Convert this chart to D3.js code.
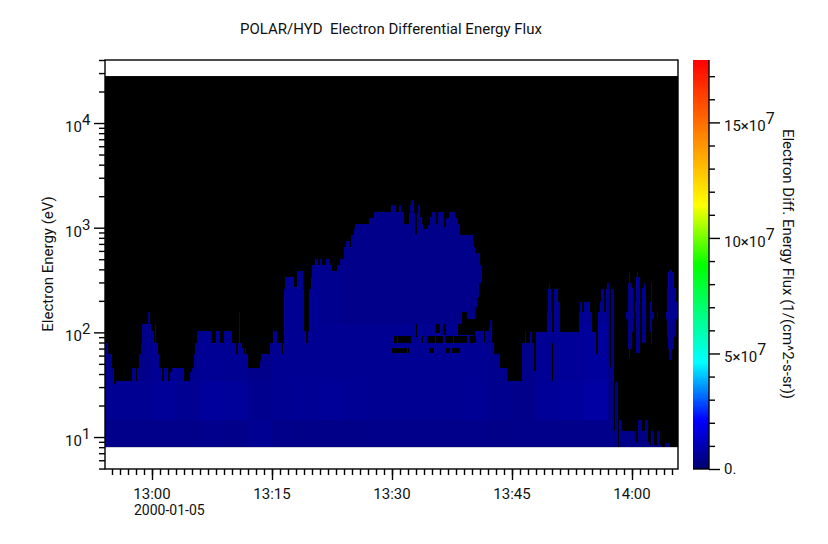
<!DOCTYPE html>
<html>
<head>
<meta charset="utf-8">
<title>POLAR/HYD Electron Differential Energy Flux</title>
<script src="https://d3js.org/d3.v7.min.js"></script>
<style>
  body { margin: 0; background: #fff; }
  text { font-family: Roboto, sans-serif; fill: #111; }
</style>
</head>
<body>
<div id="chart"></div>
<script>
// times are minutes after 13:00, energies are eV, flux is 1e7 /(cm^2-s-sr)
var timeStart = -5.875, timeEnd = 65.75;
var energyMin = 4.95, energyMax = 40000, energyFloor = 8, energyCeil = 28100;

// upper edge of the filled spectrogram, column by column
var blockStart = [-5.875,-5.5,-5.08,-4.83,-4.5,-2.5,-2.08,-1.83,-1.58,-1.33,-1.21,-0.5,-0.33,-0.21,-0.04,0.25,0.38,0.5,0.67,0.79,
  1.17,1.5,1.92,2.25,2.46,2.92,3,4,4.75,5,5.25,5.42,5.67,6.17,6.25,7.33,8,8.5,9,9.92,
  10.5,10.75,10.88,10.96,11.25,11.42,11.67,11.75,12,13.5,13.67,14.75,15.13,15.63,16.17,16.33,16.5,16.67,17.67,18.08,
  18.79,18.96,19.25,19.54,19.67,19.83,20,20.42,20.67,21,21.25,21.75,22.17,22.42,23.17,23.5,24,24.25,24.67,24.92,
  25.25,25.42,27.17,27.75,29.88,30.42,30.92,31.13,31.5,32.17,32.25,32.42,32.67,32.83,33.08,33.21,33.5,33.71,33.83,34.54,
  34.75,34.96,35.46,35.79,36.42,36.71,37.17,37.88,38.17,38.5,40.13,40.38,40.92,41.08,41.21,41.42,41.67,42.08,42.25,42.42,
  42.67,43.42,44.38,46.25,46.63,46.75,47.25,47.5,47.75,48,49.42,49.5,49.58,49.71,49.83,49.92,50.08,50.25,50.67,50.92,
  53.42,53.5,53.75,54,54.67,54.92,55.42,55.79,56,56.12,56.5,56.75,56.92,57.04,57.17,57.33,57.75,57.92,58.17,58.42,58.75,60.42,60.71,
  61.21,61.63,62,62.17,62.38,62.71,63.08,63.42,63.71,64.13,64.75];
var blockTop = [78.5,62,46,32,34,46,34,46,62,78.5,120,156,120,78.5,102,78.5,120,78.5,62,46,
  34,46,34,42,46,34,46,34,42,46,62,78.5,102,78.5,102,78.5,102,78.5,102,78.5,
  62,78.5,156,78.5,71,62,71,62,46,53.5,62,78.5,102,78.5,62,78.5,261,335,270,385,
  261,102,78.5,102,261,335,439,498,439,498,439,498,439,385,439,498,649,750,649,844,
  964,1083,1250,1409,1644,1409,1644,1409,1083,1368,1644,1835,1368,869,1368,1644,1273,1083,964,1059,
  1273,1400,1083,1400,1021,1227,1400,1227,1083,844,658,576,439,394,102,78.5,102,113,131,78.5,
  62,46,34,78.5,101,78.5,101,78.5,43,101,157,260,289,260,157,101,78.5,260,196,101,
  157,196,157,196,157,101,62,157,196,260,157,260,294,260,47,260,11.5,33.5,8,14.5,11.5,9,14.5,
  11.5,14.5,9,8.4,11.5,8.4,11.5,8.4,8,8.7,8];

// black gaps cut out of the filled part: [from, to, low eV, high eV]
var holes = [
  [38.29,38.71,94,121],[38.71,39.42,94,157],[39.42,40.17,94,133],[40.17,40.38,78.5,133],
  [40.38,40.63,102,176],[40.63,40.92,102,219],[40.92,41.21,102,294],
  [35.38,36,98,120],[36.42,36.71,94,121],[33,33.17,91,120],
  [30.25,30.67,78.5,92],[30.79,32.38,78.5,92],[33.08,33.21,78.5,92],[33.71,33.83,78.5,92],
  [34.42,35.38,78.5,92],[35.5,36.42,78.5,92],[36.63,37.67,78.5,92],[37.75,39.42,78.5,92],[39.67,40.5,78.5,92],
  [30,31.83,63,71],[32.04,32.17,63,71],[34.67,35.25,63,71],[35.67,35.75,63,71],[36.75,37.25,63,71],[37.5,38.5,63,71],
  [50.04,50.1,34,78.5]
];

// detached patches above the low band near the end: [from, to, low eV, high eV]
var islands = [
  [59.25,60.17,134,157],[59.5,60.08,101,263],[59.5,59.96,70,294],[59.63,59.75,56.5,379],
  [60.42,61,157,196],[60.5,60.92,63,340],[60.63,60.75,63,379],
  [61.21,61.71,78.5,263],[61.5,61.63,78.5,294],
  [62.25,62.67,134,157],[62.25,62.5,101,196],[62.38,62.46,78,294],
  [63.13,63.21,134,157],
  [64.25,65.67,134,157],[64.42,65.71,134,196],[64.42,65.5,90,263],[64.54,65.25,70,379],[64.67,64.96,54.5,390]
];

// flux read from the blue shades, per energy band and time slot
var slotStart = [-5.875,-3,0,3,6,9,12,15,18,21,24,27,30,33,36,39,42,45,48,51,54,57,60,63];
var bandLow = [8,14.5,34,120];
var fluxLow   = [.40,.38,.40,.40,.42,.40,.50,.38,.36,.36,.36,.38,.38,.38,.38,.38,.36,.38,.40,.40,.40,.36,.30,.30];
var fluxMid   = [.50,.50,.60,.50,.65,.62,.45,.50,.55,.60,.55,.50,.50,.50,.50,.55,.45,.40,.60,.65,.75,.30,.30,.30];
var fluxUpper = [.45,.40,.55,.45,.55,.50,.40,.50,.50,.50,.50,.50,.50,.50,.50,.50,.45,.40,.55,.60,.65,.35,.40,.40];
var fluxTop   = [.40,.40,.50,.40,.40,.40,.40,.50,.50,.45,.40,.40,.40,.40,.40,.40,.40,.40,.50,.50,.50,.40,.55,.50];
var fluxBands = [fluxLow, fluxMid, fluxUpper, fluxTop];

var colorValues = [0, 2.1, 4.6, 8.8, 11.4, 17.7];
var colorNames = ["#000070", "#0000ff", "#00ffff", "#00ff00", "#ffff00", "#ff0000"];

var timeMajor = [0, 15, 30, 45, 60];
var timeLabels = ["13:00", "13:15", "13:30", "13:45", "14:00"];
var energyMajor = [10, 100, 1000, 10000];
var energyExp = ["1", "2", "3", "4"];
var energyMinor = [5,6,7,8,9,20,30,40,50,60,70,80,90,200,300,400,500,600,700,800,900,
  2000,3000,4000,5000,6000,7000,8000,9000,20000,30000,40000];
var fluxMajor = [0, 5, 10, 15];
var fluxLabels = ["0.", "5\u00d710", "10\u00d710", "15\u00d710"];
var fluxMinor = [1,2,3,4,6,7,8,9,11,12,13,14,16,17];

var width = 828, height = 544;
var left = 105, right = 678, top_ = 60, bottom = 469;

var svg = d3.select("#chart").append("svg")
  .attr("width", width).attr("height", height)
  .style("display", "block");

var x = d3.scaleLinear().domain([timeStart, timeEnd]).range([left, right]);
var y = d3.scaleLog().domain([energyMin, energyMax]).range([bottom, top_]);
var c = d3.scaleLinear().domain([0, 17.7]).range([bottom, top_]);
var color = d3.scaleLinear().domain(colorValues).range(colorNames).interpolate(d3.interpolateRgb);

// cut a time/energy box along slots and bands so each piece gets its own shade
function cells(t0, t1, lo, hi) {
  var out = [];
  slotStart.forEach(function(s, i) {
    var a = Math.max(t0, s), b = Math.min(t1, i + 1 < slotStart.length ? slotStart[i + 1] : timeEnd);
    if (b <= a) return;
    bandLow.forEach(function(l, j) {
      var u = j + 1 < bandLow.length ? bandLow[j + 1] : energyCeil;
      var e0 = Math.max(lo, l), e1 = Math.min(hi, u);
      if (e1 <= e0) return;
      out.push({ t0: a, t1: b, lo: e0, hi: e1, v: fluxBands[j][i] });
    });
  });
  return out;
}

var plot = svg.append("g");
plot.append("rect")
  .attr("x", x(timeStart)).attr("width", x(timeEnd) - x(timeStart))
  .attr("y", y(energyCeil)).attr("height", y(energyFloor) - y(energyCeil))
  .attr("fill", "#000");

var filled = [];
blockStart.forEach(function(s, i) {
  var e = i + 1 < blockStart.length ? blockStart[i + 1] : timeEnd;
  filled = filled.concat(cells(s, e, energyFloor, blockTop[i]));
});

function drawCells(data) {
  plot.append("g").attr("shape-rendering", "crispEdges").selectAll("rect")
    .data(data).enter().append("rect")
    .attr("x", function(d) { return x(d.t0); })
    .attr("width", function(d) { return x(d.t1) - x(d.t0) + 0.3; })
    .attr("y", function(d) { return y(d.hi); })
    .attr("height", function(d) { return y(d.lo) - y(d.hi); })
    .attr("fill", function(d) { return color(d.v); });
}
drawCells(filled);

plot.append("g").attr("shape-rendering", "crispEdges").selectAll("rect")
  .data(holes).enter().append("rect")
  .attr("x", function(d) { return x(d[0]); })
  .attr("width", function(d) { return x(d[1]) - x(d[0]); })
  .attr("y", function(d) { return y(d[3]); })
  .attr("height", function(d) { return y(d[2]) - y(d[3]); })
  .attr("fill", "#000");

var islandCells = [];
islands.forEach(function(d) { islandCells = islandCells.concat(cells(d[0], d[1], d[2], d[3])); });
drawCells(islandCells);

// frame
svg.append("rect")
  .attr("x", left).attr("y", top_).attr("width", right - left).attr("height", bottom - top_)
  .attr("fill", "none").attr("stroke", "#000").attr("stroke-width", 1.4);

function styleAxis(g) {
  g.selectAll("path.domain").remove();
  g.selectAll("line").attr("stroke", "#000").attr("stroke-width", 1.4);
  g.selectAll("text").remove();
}

// time axis
svg.append("g").attr("transform", "translate(0," + bottom + ")")
  .call(d3.axisBottom(x).tickValues(d3.range(-5, 66)).tickSize(6).tickFormat(""))
  .call(styleAxis);
svg.append("g").attr("transform", "translate(0," + bottom + ")")
  .call(d3.axisBottom(x).tickValues(timeMajor).tickSize(11).tickFormat(""))
  .call(styleAxis);
svg.selectAll(".timeLabel").data(timeMajor).enter().append("text")
  .attr("class", "timeLabel")
  .attr("x", function(d) { return x(d); }).attr("y", 499)
  .attr("text-anchor", "middle").style("font-size", "15px")
  .text(function(d, i) { return timeLabels[i]; });
svg.append("text").attr("x", 134).attr("y", 515).style("font-size", "14px").text("2000-01-05");

// energy axis
svg.append("g").attr("transform", "translate(" + left + ",0)")
  .call(d3.axisLeft(y).tickValues(energyMinor).tickSize(6).tickFormat(""))
  .call(styleAxis);
svg.append("g").attr("transform", "translate(" + left + ",0)")
  .call(d3.axisLeft(y).tickValues(energyMajor).tickSize(11).tickFormat(""))
  .call(styleAxis);
var eLab = svg.selectAll(".energyLabel").data(energyMajor).enter().append("text")
  .attr("class", "energyLabel")
  .attr("x", 65).attr("y", function(d) { return y(d) + 9; })
  .style("font-size", "15px");
eLab.append("tspan").text("10");
eLab.append("tspan").attr("dy", -7).text(function(d, i) { return energyExp[i]; });

// color bar
var barX = 693, barW = 16;
svg.append("g").attr("shape-rendering", "crispEdges").selectAll("rect")
  .data(d3.range(0, 17.7, 0.05)).enter().append("rect")
  .attr("x", barX).attr("width", barW)
  .attr("y", function(d) { return c(d + 0.05) - 0.3; })
  .attr("height", function(d) { return c(d) - c(d + 0.05) + 0.6; })
  .attr("fill", function(d) { return color(d); });
svg.append("line").attr("x1", barX + barW).attr("x2", barX + barW)
  .attr("y1", top_).attr("y2", bottom).attr("stroke", "#000").attr("stroke-width", 1.4);
svg.append("g").attr("transform", "translate(" + (barX + barW) + ",0)")
  .call(d3.axisRight(c).tickValues(fluxMinor).tickSize(6).tickFormat(""))
  .call(styleAxis);
svg.append("g").attr("transform", "translate(" + (barX + barW) + ",0)")
  .call(d3.axisRight(c).tickValues(fluxMajor).tickSize(11).tickFormat(""))
  .call(styleAxis);
svg.append("line").attr("x1", barX).attr("x2", barX + barW)
  .attr("y1", bottom).attr("y2", bottom).attr("stroke", "#000").attr("stroke-width", 1.4);
var fLab = svg.selectAll(".fluxLabel").data(fluxMajor).enter().append("text")
  .attr("class", "fluxLabel")
  .attr("x", 724).attr("y", function(d) { return c(d) + (d > 0 ? 9 : 5); })
  .style("font-size", "15px");
fLab.append("tspan").text(function(d, i) { return fluxLabels[i]; });
fLab.filter(function(d) { return d > 0; }).append("tspan").attr("dy", -7).style("font-size", "16px").text("7");

// titles
svg.append("text").attr("x", 391).attr("y", 34).attr("text-anchor", "middle")
  .style("font-size", "15px").style("white-space", "pre")
  .text("POLAR/HYD\u00a0\u00a0Electron Differential Energy Flux");
svg.append("text").attr("transform", "translate(53,264) rotate(-90)")
  .attr("text-anchor", "middle").style("font-size", "15px").text("Electron Energy (eV)");
svg.append("text").attr("transform", "translate(783,264) rotate(90)")
  .attr("text-anchor", "middle").style("font-size", "15px").text("Electron Diff. Energy Flux (1/(cm^2-s-sr))");
</script>
</body>
</html>
